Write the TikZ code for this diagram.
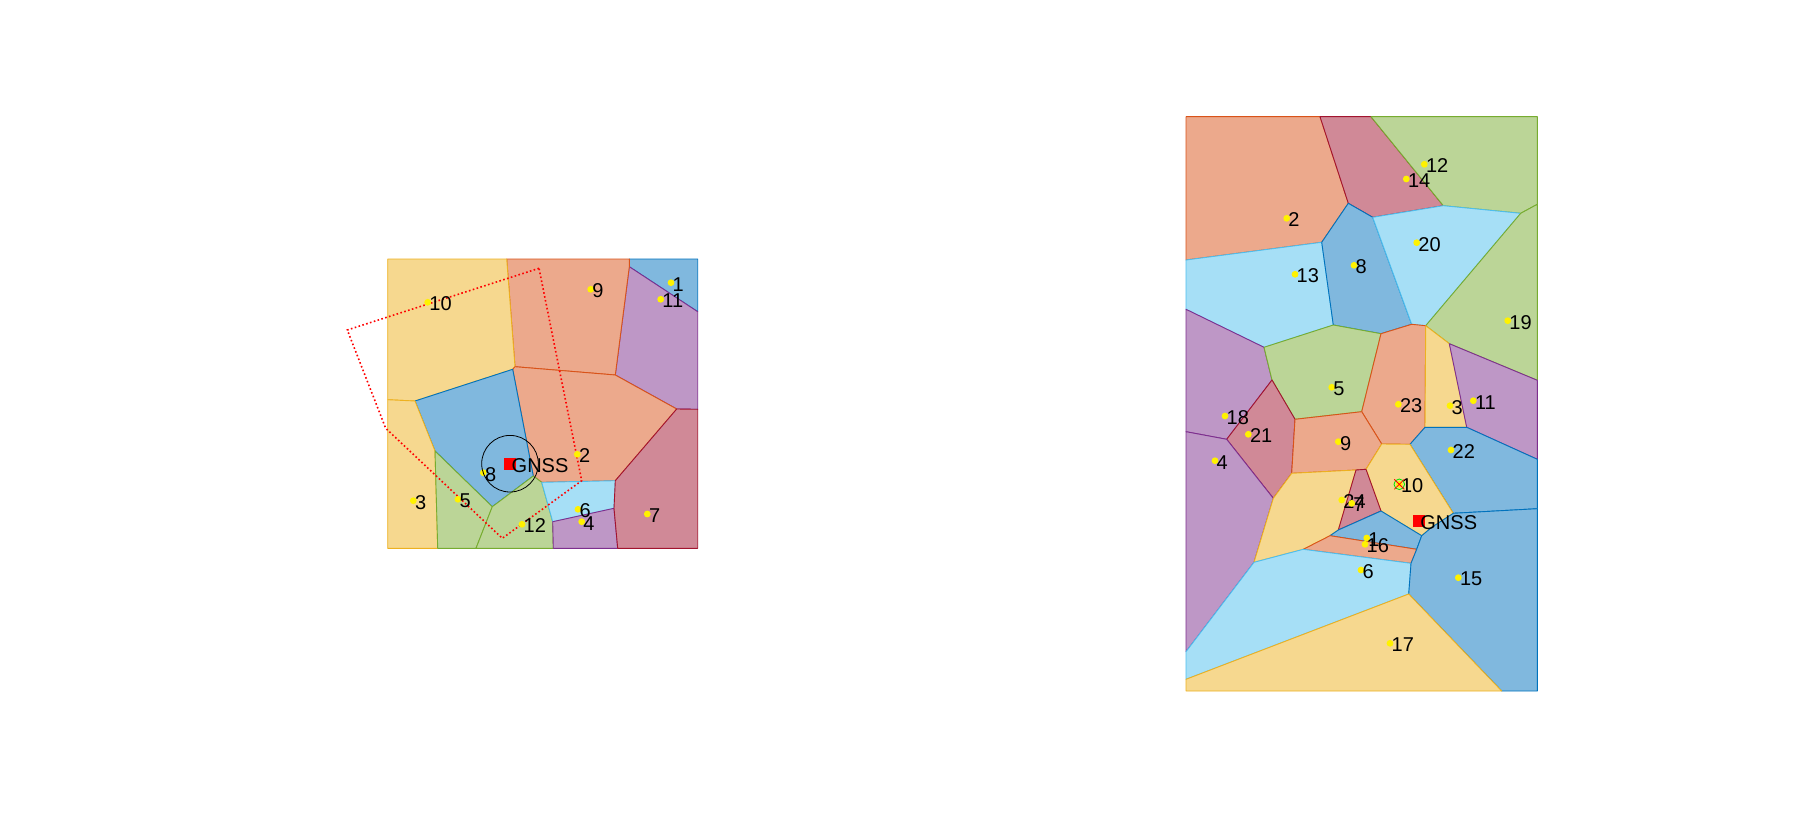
\documentclass[tikz,border=0pt]{standalone}
\usepackage{fontspec}
\setmainfont{Liberation Sans}
\definecolor{mb}{RGB}{0,114,189}
\definecolor{mo}{RGB}{217,83,25}
\definecolor{my}{RGB}{237,177,32}
\definecolor{mp}{RGB}{126,47,142}
\definecolor{mg}{RGB}{119,172,48}
\definecolor{mc}{RGB}{77,190,238}
\definecolor{mr}{RGB}{162,20,47}
\tikzset{
  cb/.style={draw=mb,fill=mb!50,line width=0.9pt,line join=round},
  co/.style={draw=mo,fill=mo!50,line width=0.9pt,line join=round},
  cy/.style={draw=my,fill=my!50,line width=0.9pt,line join=round},
  cp/.style={draw=mp,fill=mp!50,line width=0.9pt,line join=round},
  cg/.style={draw=mg,fill=mg!50,line width=0.9pt,line join=round},
  cc/.style={draw=mc,fill=mc!50,line width=0.9pt,line join=round},
  cr/.style={draw=mr,fill=mr!50,line width=0.9pt,line join=round},
  dot/.style={circle,fill=yellow,inner sep=0pt,minimum size=6.8pt},
  lab/.style={anchor=west,inner sep=0pt,xshift=1.5pt,yshift=-1.5pt,font=\fontsize{20}{24}\selectfont},
  gnss/.style={fill=red,inner sep=0pt,minimum size=12pt},
  zone/.style={red,line width=1.6pt,dash pattern=on 1.6pt off 2.4pt},
}
\begin{document}
\begin{tikzpicture}[x=1pt,y=-1pt]
\useasboundingbox (0,0) rectangle (1820,837);
% ---------------- left diagram ----------------
\draw[cb] (629.3,259) -- (697.7,259) -- (697.7,311.7) -- (629.3,266.7) -- cycle;
\draw[cp] (629.3,266.7) -- (697.7,311.7) -- (697.7,409.3) -- (676.7,409) -- (615.3,375) -- cycle;
\draw[co] (506.7,259) -- (629.3,259) -- (629.3,266.7) -- (615.3,375) -- (515,366.7) -- cycle;
\draw[cy] (387.7,259) -- (506.7,259) -- (515,366.7) -- (512.7,369.3) -- (415,401) -- (387.7,399.7) -- cycle;
\draw[co] (515,366.7) -- (615.3,375) -- (676.7,409) -- (615.3,480.7) -- (541.7,482.3) -- (533.3,476) -- (512.7,369.3) -- cycle;
\draw[cb] (415,401) -- (512.7,369.3) -- (533.3,476) -- (492.3,506.7) -- (435,451) -- cycle;
\draw[cy] (387.7,399.7) -- (415,401) -- (435,451) -- (437.7,548.3) -- (387.7,548.3) -- cycle;
\draw[cg] (435,451) -- (492.3,506.7) -- (476,548.3) -- (437.7,548.3) -- cycle;
\draw[cg] (492.3,506.7) -- (533.3,476) -- (541.7,482.3) -- (552.7,521.7) -- (553.3,548.3) -- (476,548.3) -- cycle;
\draw[cc] (541.7,482.3) -- (615.3,480.7) -- (614,508.3) -- (552.7,521.7) -- cycle;
\draw[cp] (552.7,521.7) -- (614,508.3) -- (617.7,548.3) -- (553.3,548.3) -- cycle;
\draw[cr] (676.7,409) -- (697.7,409.3) -- (697.7,548.3) -- (617.7,548.3) -- (614,508.3) -- (615.3,480.7) -- cycle;
% zone
\draw[zone] (539,268.3) -- (347.3,330) -- (385.7,428.3) -- (502.3,538.3) -- (581.7,480.7) -- cycle;
% points
\foreach \n/\x/\y in {1/671/282.7, 11/660.7/299.3, 9/590.7/289.3, 10/427.7/302.3, 2/577.3/454.3, 8/483.3/472.7, 3/413.3/500.7, 5/458/499.3, 6/578/509.3, 4/581.7/521.7, 7/647.3/514, 12/522/524.3}{
  \node[dot] (l\n) at (\x,\y) {};
  \node[lab] at (l\n) {\n};
}
\node[gnss] (lg) at (510,463.7) {};
\draw[black,line width=0.8pt] (lg.center) circle (28.3);
\node[lab] at (lg) {GNSS};
% ---------------- right diagram ----------------
\draw[co] (1186,116.7) -- (1320,116.7) -- (1348.3,203.3) -- (1321.7,242.3) -- (1186,260) -- cycle;
\draw[cr] (1320,116.7) -- (1371,116.7) -- (1443.3,205.7) -- (1372.7,217.3) -- (1348.3,203.3) -- cycle;
\draw[cg] (1371,116.7) -- (1537.3,116.7) -- (1537.3,204.3) -- (1520.7,213.3) -- (1443.3,205.7) -- cycle;
\draw[cc] (1186,260) -- (1321.7,242.3) -- (1333.3,325) -- (1264,347.3) -- (1186,309.3) -- cycle;
\draw[cb] (1348.3,203.3) -- (1372.7,217.3) -- (1411.7,324.3) -- (1381,333.7) -- (1333.3,325) -- (1321.7,242.3) -- cycle;
\draw[cc] (1372.7,217.3) -- (1443.3,205.7) -- (1520.7,213.3) -- (1425.7,325.7) -- (1411.7,324.3) -- cycle;
\draw[cg] (1520.7,213.3) -- (1537.3,204.3) -- (1537.3,380.3) -- (1449.3,343.7) -- (1425.7,325.7) -- cycle;
\draw[cp] (1186,309.3) -- (1264,347.3) -- (1272,380) -- (1226.7,439.3) -- (1186,431.7) -- cycle;
\draw[cg] (1264,347.3) -- (1333.3,325) -- (1381,333.7) -- (1361.7,411.7) -- (1295,419.3) -- (1272,380) -- cycle;
\draw[co] (1381,333.7) -- (1411.7,324.3) -- (1425.7,325.7) -- (1425,427.3) -- (1410,444.3) -- (1381.7,444) -- (1361.7,411.7) -- cycle;
\draw[cy] (1425.7,325.7) -- (1449.3,343.7) -- (1466.7,427.3) -- (1425,427.3) -- cycle;
\draw[cp] (1449.3,343.7) -- (1537.3,380.3) -- (1537.3,459.3) -- (1466.7,427.3) -- cycle;
\draw[cr] (1272,380) -- (1295,419.3) -- (1291.7,473.3) -- (1273.3,498.3) -- (1226.7,439.3) -- cycle;
\draw[co] (1295,419.3) -- (1361.7,411.7) -- (1381.7,444) -- (1366,469.3) -- (1356,470) -- (1291.7,473.3) -- cycle;
\draw[cb] (1425,427.3) -- (1466.7,427.3) -- (1537.3,459.3) -- (1537.3,508.7) -- (1453.3,513.3) -- (1410,444.3) -- cycle;
\draw[cy] (1381.7,444) -- (1410,444.3) -- (1453.3,513.3) -- (1431.7,527.3) -- (1421.7,535.7) -- (1381,511) -- (1366,469.3) -- cycle;
\draw[cp] (1186,431.7) -- (1226.7,439.3) -- (1273.3,498.3) -- (1254,562.3) -- (1186,651.7) -- cycle;
\draw[cy] (1291.7,473.3) -- (1356,470) -- (1338.3,530) -- (1330,535.7) -- (1303.3,549.3) -- (1254,562.3) -- (1273.3,498.3) -- cycle;
\draw[cr] (1356,470) -- (1366,469.3) -- (1381,511) -- (1338.3,530) -- cycle;
\draw[cb] (1330,535.7) -- (1338.3,530) -- (1381,511) -- (1421.7,535.7) -- (1416.7,549.3) -- cycle;
\draw[co] (1303.3,549.3) -- (1330,535.7) -- (1416.7,549.3) -- (1411,563.3) -- cycle;
\draw[cc] (1186,651.7) -- (1254,562.3) -- (1303.3,549.3) -- (1411,563.3) -- (1408.7,594) -- (1186,679.3) -- cycle;
\draw[cb] (1421.7,535.7) -- (1431.7,527.3) -- (1453.3,513.3) -- (1537.3,508.7) -- (1537.3,691) -- (1501.7,691) -- (1408.7,594) -- (1411,563.3) -- (1416.7,549.3) -- cycle;
\draw[cy] (1186,679.3) -- (1408.7,594) -- (1501.7,691) -- (1186,691) -- cycle;
% points
\foreach \n/\x/\y in {12/1424.3/164.3, 14/1406.3/179, 2/1286.7/218.3, 20/1416.7/242.7, 13/1295/274.3, 8/1354/265.3, 19/1507.7/320.7, 5/1331.7/387.3, 18/1225/416, 21/1248.3/434.3, 4/1215/460.7, 9/1338.3/441.7, 23/1398.3/404.3, 3/1450/405.7, 11/1473.3/400.7, 22/1451/450, 10/1399.3/484.3, 24/1341.7/500, 7/1351.7/503.3, 1/1366.7/538, 16/1365/544.3, 6/1361/570, 15/1458.3/577.7, 17/1390/643.3}{
  \node[dot] (r\n) at (\x,\y) {};
  \node[lab] at (r\n) {\n};
}
\draw[green!90!black,line width=0.8pt] (r10.center) circle (5.3);
\draw[red,line width=0.8pt] ([shift={(-5,-5)}]r10.center) -- ([shift={(5,5)}]r10.center)
  ([shift={(-5,5)}]r10.center) -- ([shift={(5,-5)}]r10.center);
\node[gnss] (rg) at (1418.7,520.7) {};
\node[lab] at (rg) {GNSS};
\end{tikzpicture}
\end{document}
